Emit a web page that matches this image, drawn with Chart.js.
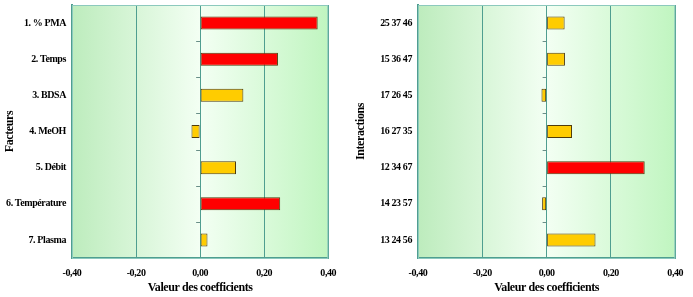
<!DOCTYPE html>
<html>
<head>
<meta charset="utf-8">
<script src="https://cdn.jsdelivr.net/npm/chart.js@4"></script>
<style>
  body { margin: 0; background: #fff; }
  #wrap { position: relative; width: 693px; height: 297px; }
  canvas { position: absolute; top: 0; }
</style>
</head>
<body>
<div id="wrap">
  <canvas id="factors" width="346" height="297" style="left:0"></canvas>
  <canvas id="interactions" width="347" height="297" style="left:346px"></canvas>
</div>
<script>
const factorLabels = ["1. % PMA", "2. Temps", "3. BDSA", "4. MeOH", "5. Débit", "6. Température", "7. Plasma"];
const factorValues = [0.367, 0.243, 0.135, -0.027, 0.112, 0.25, 0.023];

const interactionLabels = ["25 37 46", "15 36 47", "17 26 45", "16 27 35", "12 34 67", "14 23 57", "13 24 56"];
const interactionValues = [0.056, 0.057, -0.016, 0.079, 0.305, -0.014, 0.152];

const xTicks = [-0.4, -0.2, 0, 0.2, 0.4];

const tickFont = { family: "Liberation Serif", size: 10, weight: "bold" };
const titleFont = { family: "Liberation Serif", size: 12, weight: "bold" };
const teal = "#4f9e90";

// green gradient behind the plot + frame + small ticks on the zero line
const decor = {
    id: "decor",
    beforeDraw(chart) {
        const { ctx, chartArea: a } = chart;
        ctx.save();
        const g = ctx.createLinearGradient(a.left, 0, a.right, 0);
        g.addColorStop(0, "#bdecbd");
        g.addColorStop(0.5, "#f3fff3");
        g.addColorStop(1, "#c0f5c0");
        ctx.fillStyle = g;
        ctx.fillRect(a.left, a.top, a.right - a.left, a.bottom - a.top);
        ctx.restore();
        ctx.letterSpacing = "-0.4px";
    },
    beforeDatasetsDraw(chart) {
        const { ctx, chartArea: a, scales } = chart;
        ctx.save();
        ctx.strokeStyle = "#8cc9bd";
        ctx.lineWidth = 1;
        ctx.strokeRect(a.left + 0.5, a.top + 0.5, a.right - a.left - 1, a.bottom - a.top);
        const x0 = scales.x.getPixelForValue(0);
        const n = chart.data.labels.length;
        ctx.strokeStyle = "#6a8f88";
        ctx.beginPath();
        for (let i = 0; i < n - 1; i++) {
            const y = (scales.y.getPixelForValue(i) + scales.y.getPixelForValue(i + 1)) / 2;
            ctx.moveTo(x0 - 4, Math.round(y) + 0.5);
            ctx.lineTo(x0, Math.round(y) + 0.5);
        }
        ctx.stroke();
        ctx.restore();
    }
};

function makeChart(id, labels, values, yTitle, rightPad, titlePad) {
    return new Chart(document.getElementById(id).getContext("2d"), {
        type: "bar",
        data: {
            labels: labels,
            datasets: [{
                data: values,
                backgroundColor: values.map((v) => Math.abs(v) > 0.2 ? "#ff0000" : "#ffcc00"),
                borderColor: "#4f3c0c",
                borderWidth: 1,
                borderSkipped: false,
                barPercentage: 0.36,
                categoryPercentage: 1
            }]
        },
        options: {
            indexAxis: "y",
            responsive: false,
            animation: false,
            layout: { padding: { top: 5, right: rightPad, left: 0, bottom: 0 } },
            plugins: { legend: { display: false }, tooltip: { enabled: false } },
            scales: {
                x: {
                    min: -0.4,
                    max: 0.4,
                    afterBuildTicks: (s) => { s.ticks = xTicks.map((v) => ({ value: v })); },
                    ticks: {
                        callback: (v) => v.toFixed(2).replace(".", ","),
                        font: tickFont,
                        color: "#000",
                        padding: 9,
                        maxRotation: 0
                    },
                    grid: { color: teal, lineWidth: 1, drawTicks: false },
                    border: { color: teal, width: 2 },
                    title: { display: true, text: "Valeur des coefficients", font: titleFont, color: "#000", padding: { top: 0, bottom: 2 } },
                    afterFit: (s) => { s.height = 39; }
                },
                y: {
                    ticks: { font: tickFont, color: "#000", padding: 6 },
                    grid: { display: false, drawTicks: false },
                    border: { color: teal, width: 2 },
                    title: { display: true, text: yTitle, font: titleFont, color: "#000", padding: titlePad },
                    afterFit: (s) => { s.width = 72; s.paddingTop = 0; s.paddingBottom = 0; }
                }
            }
        },
        plugins: [decor]
    });
}

makeChart("factors", factorLabels, factorValues, "Facteurs", 17, 3);
makeChart("interactions", interactionLabels, interactionValues, "Interactions", 10, 8);
</script>
</body>
</html>
